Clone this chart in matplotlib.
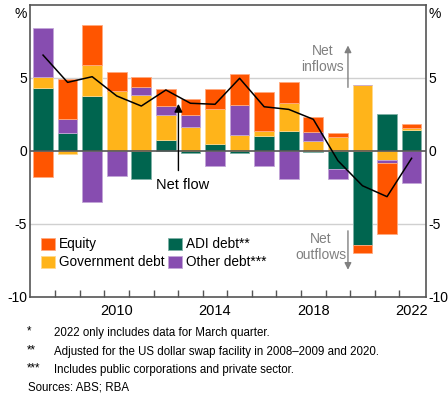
import matplotlib
matplotlib.use("Agg")
import matplotlib.pyplot as plt
import numpy as np

# == DATA ==
years = list(range(2007, 2023))
adi_debt = [4.27, 1.19, 3.75, 0.0, -1.92, 0.73, -0.18, 0.46, -0.18, 1.00, 1.35, -0.11, -1.25, -6.46, 2.51, 1.42]
govt_debt = [0.76, -0.23, 2.10, 4.09, 3.82, 1.72, 1.64, 2.40, 1.08, 0.35, 1.90, 0.66, 0.96, 4.50, -0.64, 0.16]
other_debt = [3.37, 0.98, -3.49, -1.71, 0.54, 0.61, 0.81, -1.03, 2.05, -1.03, -1.92, 0.60, -0.67, 0.0, -0.22, -2.23]
equity = [-1.82, 2.74, 2.75, 1.32, 0.67, 1.14, 1.07, 1.34, 2.12, 2.69, 1.48, 1.07, 0.27, -0.57, -4.87, 0.25]
net_flow = [6.55, 4.68, 5.07, 3.75, 3.06, 4.16, 3.25, 3.18, 4.96, 3.01, 2.83, 2.15, -0.68, -2.40, -3.15, -0.52]

series = [
    ("ADI debt**", adi_debt, "#00654f", "#7fb2a7"),
    ("Government debt", govt_debt, "#ffb41a", "#ffd98c"),
    ("Other debt***", other_debt, "#874db0", "#c3a6d7"),
    ("Equity", equity, "#ff5500", "#ffaa80"),
]

footnotes = [
    ("*", "2022 only includes data for March quarter."),
    ("**", "Adjusted for the US dollar swap facility in 2008\u20132009 and 2020."),
    ("***", "Includes public corporations and private sector."),
]

# == PLOT ==
plt.rcParams["font.family"] = ["Liberation Sans", "DejaVu Sans"]
fig = plt.figure(figsize=(4.48, 3.95), dpi=100)
ax = fig.add_axes([0.067, 0.249, 0.883, 0.739])

x = np.array(years)
pos_bottom = np.zeros(len(years))
neg_bottom = np.zeros(len(years))
handles = {}
for name, vals, col, edge in series:
    v = np.array(vals)
    bottom = np.where(v >= 0, pos_bottom, neg_bottom)
    h = ax.bar(x, v, width=0.8, bottom=bottom, color=col, edgecolor=edge,
               linewidth=0.6, zorder=3)
    handles[name] = h
    pos_bottom += np.where(v >= 0, v, 0)
    neg_bottom += np.where(v < 0, v, 0)

ax.plot(x, net_flow, color="black", linewidth=1.1, zorder=5)

# axes styling
ax.set_xlim(2006.47, 2022.57)
ax.set_ylim(-10, 10)
for s in ax.spines.values():
    s.set_color("#555555")
    s.set_linewidth(1.2)
ax.axhline(0, color="#555555", linewidth=1.2, zorder=4)
for g in (5, -5):
    ax.axhline(g, color="#d0d0d0", linewidth=1.0, zorder=1)

ax.set_yticks([-10, -5, 0, 5, 9.5])
ax.set_yticklabels(["-10", "-5", "0", "5", "%"])
ax.tick_params(axis="y", length=0, labelsize=10, pad=2,
               labelright=True, right=False)
ax.set_xticks([2010, 2014, 2018, 2022])
ax.set_xticks(np.arange(2007.5, 2022, 1), minor=True)
ax.tick_params(axis="x", which="major", length=0, labelsize=10.5, pad=5)
ax.tick_params(axis="x", which="minor", direction="in", length=5,
               width=1, color="#555555")

# annotations
ax.annotate("", xy=(2012.51, 3.4), xytext=(2012.51, -1.55),
            arrowprops=dict(arrowstyle="-|>", color="black", lw=1.0,
                            mutation_scale=12), zorder=6)
ax.text(2012.7, -2.35, "Net flow", fontsize=10.5, ha="center", va="center")

ax.annotate("", xy=(2019.41, 7.4), xytext=(2019.41, 4.15),
            arrowprops=dict(arrowstyle="-|>", color="#808080", lw=1.0,
                            mutation_scale=10))
ax.text(2018.37, 6.3, "Net\ninflows", fontsize=10, color="#808080",
        ha="center", va="center", linespacing=1.15)
ax.annotate("", xy=(2019.41, -8.35), xytext=(2019.41, -5.3),
            arrowprops=dict(arrowstyle="-|>", color="#808080", lw=1.0,
                            mutation_scale=10))
ax.text(2018.3, -6.6, "Net\noutflows", fontsize=10, color="#808080",
        ha="center", va="center", linespacing=1.15)

order = ["Equity", "Government debt", "ADI debt**", "Other debt***"]
ax.legend([handles[n] for n in order], order, ncol=2, frameon=False,
          loc="upper left", bbox_to_anchor=(0.028, 0.203), fontsize=9.8,
          handlelength=1.0, handleheight=1.0, handletextpad=0.3,
          columnspacing=0.3, labelspacing=0.3, borderaxespad=0,
          borderpad=0)

# footnotes
ys = [331, 350, 368]
for (mark, txt), yy in zip(footnotes, ys):
    fig.text(27 / 448, 1 - yy / 395, mark, fontsize=8.3, va="center")
for (mark, txt), yy in zip(footnotes, ys):
    fig.text(54 / 448, 1 - (yy + 2) / 395, txt, fontsize=8.3, va="center")
fig.text(28 / 448, 1 - 387 / 395, "Sources: ABS; RBA", fontsize=8.3, va="center")

fig.savefig("out.png", dpi=100)
